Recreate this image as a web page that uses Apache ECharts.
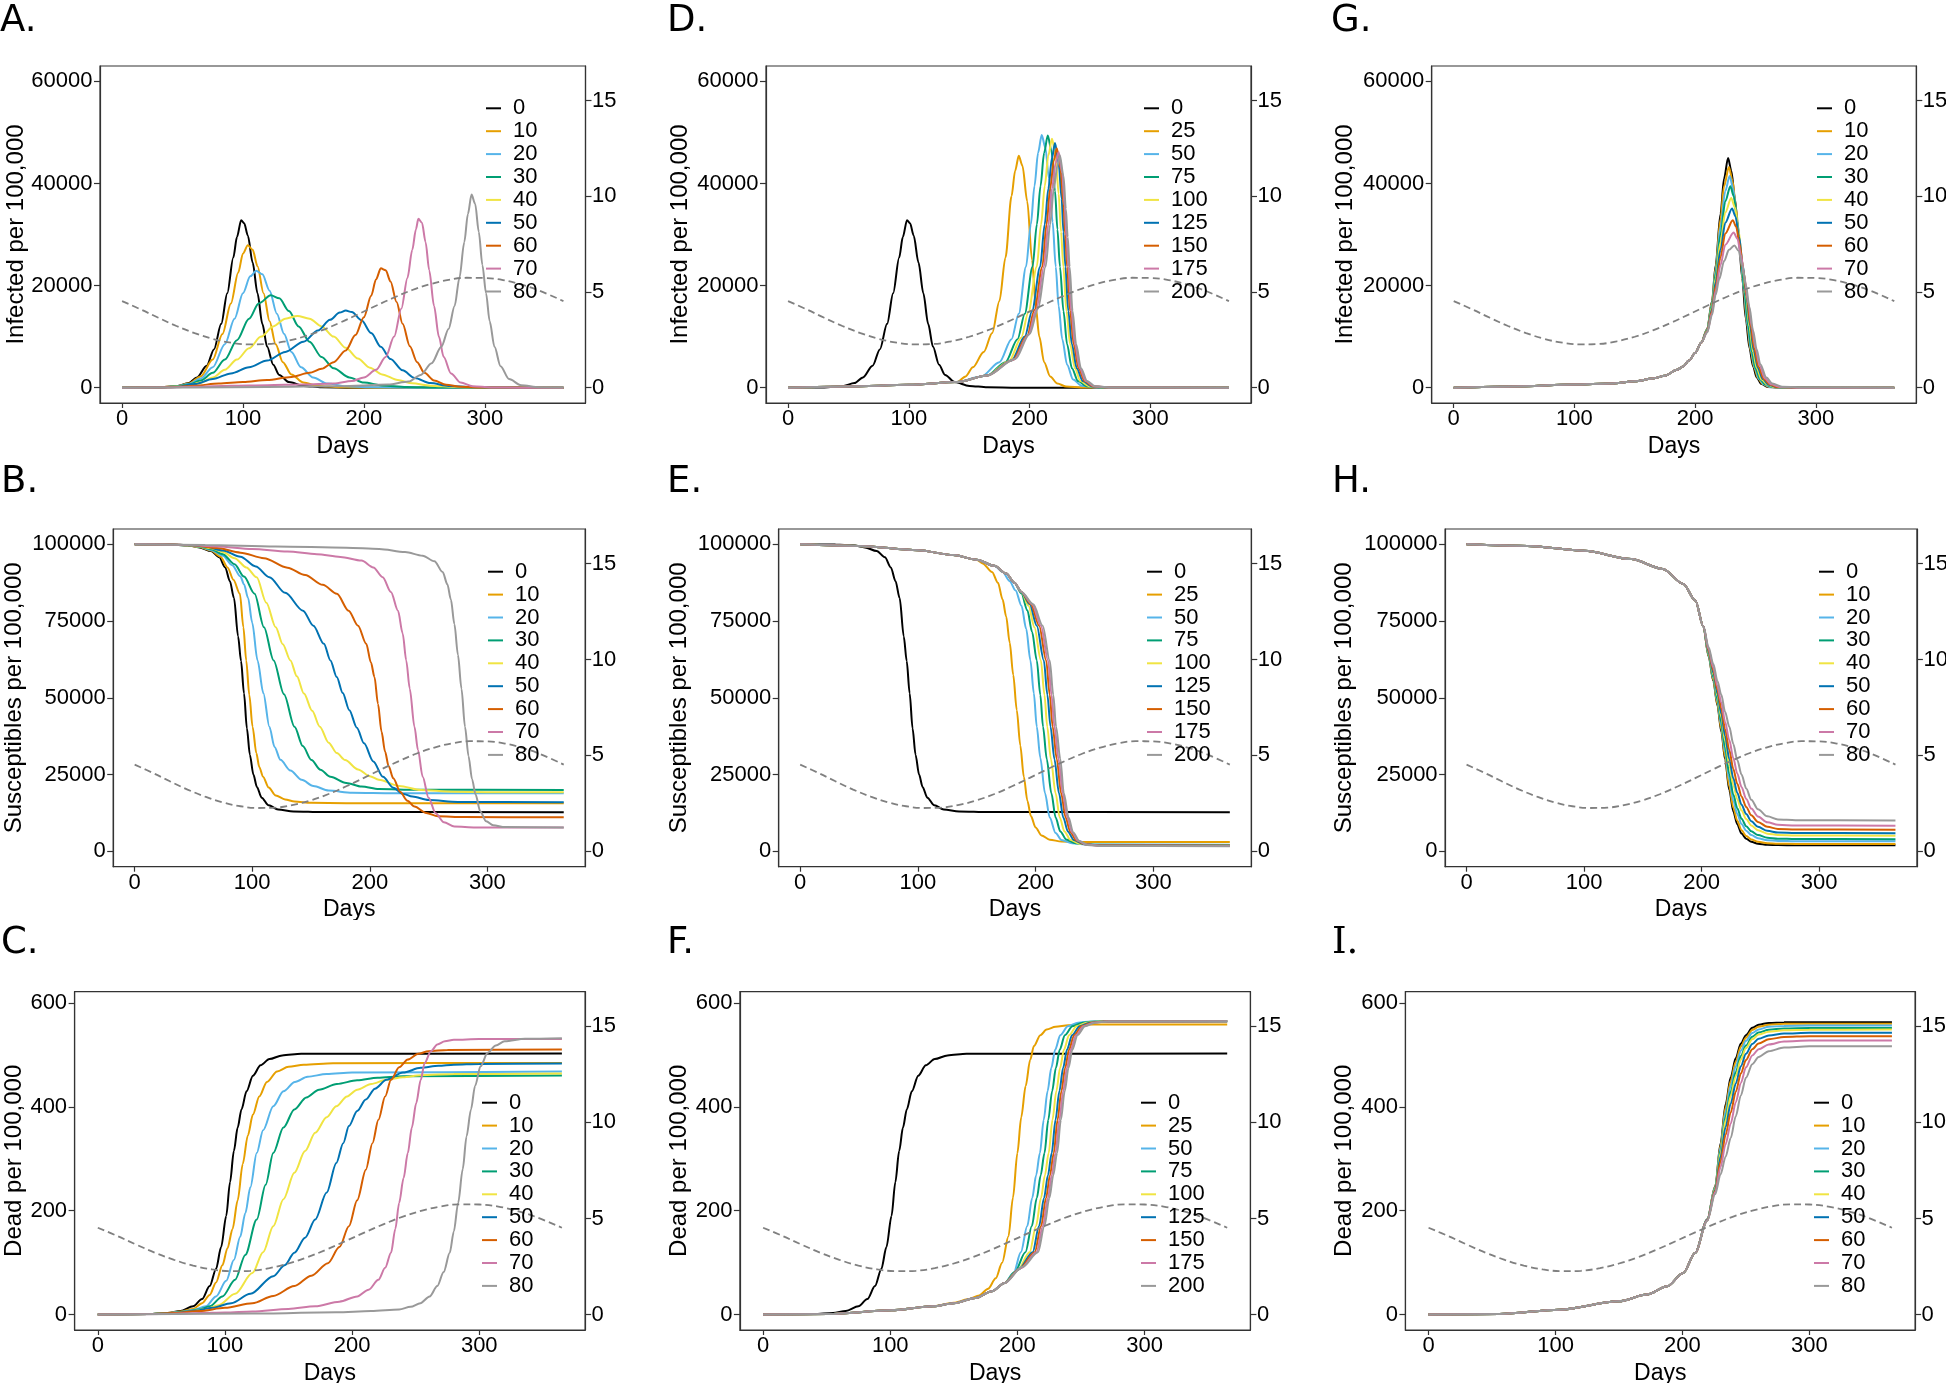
<!DOCTYPE html>
<html><head><meta charset="utf-8">
<script src="https://cdn.jsdelivr.net/npm/echarts@6/dist/echarts.min.js"></script>
<style>
html,body{margin:0;padding:0;background:#fff;}
body{position:relative;width:1946px;height:1383px;overflow:hidden;}
</style></head><body>
<script>
// ---------- shared data ----------
const seasonDays = [0,15,30,45,60,75,90,105,120,135,150,165,180,195,210,225,240,255,270,285,300,315,330,345,365];
const seasonR = [4.52,4.10,3.65,3.22,2.85,2.55,2.35,2.26,2.28,2.42,2.66,2.99,3.39,3.83,4.28,4.71,5.10,5.41,5.63,5.74,5.73,5.62,5.39,5.07,4.52];

const ageLabels = ['0','10','20','30','40','50','60','70','80'];
const delayLabels = ['0','25','50','75','100','125','150','175','200'];
const xTicks = [0,100,200,300];
const infTicks = [0,20000,40000,60000];
const susTicks = [0,25000,50000,75000,100000];
const deadTicks = [0,200,400,600];
const rTicks = [0,5,10,15];

// ---------- Infected: no intervention (black in A and D) ----------
const infNone = [[0,0],[30,60],[45,300],[55,900],[62,2000],[70,4300],[76,7500],[82,12500],[87,18500],[92,25500],[95,29500],[98.5,32800],[101,32200],[104,29800],[108,24500],[112,18500],[116,12500],[120,8000],[125,4500],[130,2500],[138,1100],[150,350],[165,80],[190,10],[365,0]];

// ---------- Panel A ----------
const infAge10 = [[0,0],[30,50],[45,280],[55,800],[65,2200],[75,5500],[83,10500],[90,16500],[96,22500],[100,26300],[104,27900],[108,27000],[112,23800],[117,18500],[122,13000],[127,8500],[133,5000],[140,2600],[150,1000],[162,350],[180,80],[210,10],[365,0]];
const infAge20 = [[0,0],[30,40],[45,250],[55,700],[65,1800],[75,4000],[85,8500],[93,13500],[100,18500],[106,21800],[111,22900],[116,22200],[122,19000],[128,14500],[134,10500],[140,7000],[148,4000],[158,2000],[170,800],[185,280],[205,70],[240,10],[365,0]];
const infAge30 = [[0,0],[30,40],[45,220],[55,600],[65,1400],[75,2900],[85,5500],[95,9300],[105,13500],[113,16500],[123,18100],[130,17500],[138,15000],[146,12000],[155,9000],[165,6000],[175,3800],[188,2000],[200,1000],[215,450],[235,150],[260,40],[300,5],[365,0]];
const infAge40 = [[0,0],[30,30],[45,180],[55,450],[65,1000],[75,2000],[85,3500],[95,5500],[105,7700],[115,10000],[125,12000],[135,13500],[145,14060],[155,13500],[165,12000],[175,10000],[185,7800],[195,5700],[205,3900],[215,2600],[228,1500],[240,850],[255,400],[275,130],[300,30],[365,0]];
const infAge50 = [[0,0],[30,30],[45,150],[60,700],[75,1700],[90,2800],[105,4000],[120,5300],[135,7000],[150,9000],[162,11200],[172,13300],[180,14700],[185,15100],[190,14800],[198,13200],[206,10700],[214,8000],[222,5600],[232,3400],[242,1900],[255,900],[270,350],[290,100],[320,15],[365,0]];
const infAge60 = [[0,0],[30,20],[45,120],[60,400],[80,800],[100,1100],[120,1500],[140,2100],[155,2900],[165,3700],[175,5000],[185,7300],[193,10300],[200,13800],[206,18000],[210,21200],[214,23370],[218,23000],[222,20800],[227,16800],[232,12500],[238,8100],[244,5000],[250,2900],[258,1400],[268,550],[280,180],[300,30],[365,0]];
const infAge70 = [[0,0],[40,50],[60,200],[90,400],[120,500],[150,600],[175,800],[190,1300],[200,2000],[210,3500],[218,6000],[225,10000],[231,15500],[236,21500],[240,27000],[243,31000],[245,33070],[248,32300],[251,28500],[254,23000],[258,16000],[262,10000],[266,6000],[272,2800],[280,1000],[290,300],[305,60],[330,5],[365,0]];
const infAge80 = [[0,0],[60,50],[120,150],[180,300],[220,600],[237,1200],[247,2500],[256,4800],[264,8000],[270,11500],[275,16000],[279,21500],[283,28500],[286,34000],[289,37820],[292,36000],[295,30500],[298,24000],[301,18500],[304,13000],[308,8000],[313,4200],[320,1700],[330,500],[345,100],[365,15]];

// ---------- Panel D ----------
const infDelayBase = [[0,0],[50,250],[100,550],[140,1100]];
const infDelay25 = [[147,2200],[153,4000],[162,7000],[169,10700],[175,17000],[180,25500],[185,37500],[188,42500],[191,45400],[194,43500],[198,36500],[202,25000],[205,16000],[208,10000],[212,5000],[217,2200],[223,800],[230,250],[245,40],[365,0]];
const infDelay50 = [[160,2200],[175,5000],[185,9500],[191,14500],[197,23700],[201,32000],[204,39500],[207,46000],[210,49500],[213,47000],[216,41000],[219,32500],[221.6,23700],[224,16000],[227,9500],[231,4500],[236,1600],[243,400],[255,50],[365,0]];
const infDelay75 = [[165,2400],[180,5000],[190,9500],[196,14500],[202.4,23700],[206,32000],[209,39500],[212,46000],[215,49400],[218,46500],[221,38500],[223,31000],[225.1,23700],[228,15000],[231,8500],[235,3800],[240,1300],[247,300],[260,30],[365,0]];
const infDelay100 = [[165,2400],[183,5200],[193,9800],[199,14800],[205.9,23700],[209.5,32000],[212.5,39500],[215.5,45500],[218.5,48760],[221.5,45500],[224,38000],[226,30500],[227.9,23700],[230.5,15000],[233.5,8500],[237.5,3800],[242,1300],[249,300],[262,30],[365,0]];
const infDelay125 = [[165,2400],[185,5300],[196,10000],[202,15000],[208.7,23700],[212.5,32000],[215.5,39000],[218.5,45000],[221,47900],[224,44000],[226.5,37000],[228,30500],[229.6,23700],[232,15000],[235,8500],[239,3800],[244,1300],[251,300],[263,30],[365,0]];
const infDelay150 = [[165,2400],[186,5400],[198,10200],[204,15200],[210.5,23700],[214,32000],[217,39000],[220,44500],[222.5,46900],[225.5,43000],[228,36000],[229.5,30000],[231,23700],[233.5,15000],[236.5,8500],[240.5,3800],[245.5,1300],[252,300],[264,30],[365,0]];
const infDelay175 = [[165,2400],[187,5500],[199,10300],[205.5,15300],[211.8,23700],[215.5,32000],[218.5,39000],[221.5,44000],[224,46150],[227,42000],[229,35500],[230.5,29500],[232,23700],[234.5,15000],[237.5,8500],[241.5,3800],[246.5,1300],[253,300],[265,30],[365,0]];
const infDelay200 = [[165,2400],[188,5600],[200,10500],[207,15500],[213.2,23700],[217,32000],[220,39000],[223,43500],[225,45500],[228,41500],[230,35000],[231.5,29500],[233.1,23700],[235.5,15000],[238.5,8500],[242.5,3800],[247.5,1300],[254,300],[266,30],[365,0]];

// ---------- Panel G ----------
const infLateBase = [[0,0],[50,250],[100,600],[130,800],[150,1240],[165,1800],[175,2340],[185,3500],[190,4170],[195,5300],[200,6770],[205,8800]];
const infLate0 = [[210,11500],[214,17000],[217,24000],[221,34000],[224,41000],[227.3,44980],[230,42500],[233,37000],[236,29500],[239,21500],[242,13500],[245,7800],[248,4200],[251,2000],[255,700],[260,150],[270,15],[365,0]];
const infLate10 = [[210,11400],[214,16800],[217,23500],[221,33000],[224,39500],[228,43230],[231,40500],[234,35000],[237,27500],[240,19800],[243,12500],[246,7200],[249,3900],[252,1900],[256,700],[261,160],[272,15],[365,0]];
const infLate20 = [[210,11300],[214,16500],[217,23000],[221,31500],[225,38500],[228.6,41470],[231.5,39000],[234.5,33500],[237.5,26500],[240.5,19000],[243.5,12000],[246.5,7000],[249.5,3800],[253,1700],[257,650],[262,150],[273,15],[365,0]];
const infLate30 = [[210,11300],[214,16200],[217,22300],[221,30000],[225,36500],[229.2,39450],[232,37500],[235,32500],[238,25800],[241,18800],[244,12000],[247,7000],[250,3800],[254,1600],[258,650],[264,130],[275,15],[365,0]];
const infLate40 = [[210,11200],[214,15800],[217,21500],[221,28500],[225,34300],[229.9,37170],[233,35300],[236,30800],[239,24800],[242,18300],[245,12000],[248,7000],[251,3900],[255,1600],[260,550],[266,120],[278,10],[365,0]];
const infLate50 = [[210,11100],[214,15400],[217,20700],[221,27000],[225,32300],[230.6,35090],[233.5,33500],[236.5,29500],[239.5,24000],[242.5,18000],[245.5,12200],[248.5,7400],[252,3900],[256,1700],[261,580],[267,140],[280,10],[365,0]];
const infLate60 = [[210,11000],[214,15000],[217,19800],[221,25500],[225,30200],[231.2,32810],[234,31500],[237,28000],[240,23000],[243,17500],[246,12200],[249,7700],[252.5,4100],[257,1700],[262,600],[268,150],[282,10],[365,0]];
const infLate70 = [[210,10900],[214,14600],[217,19000],[221,24000],[225,28000],[231.9,30400],[235,29200],[238,26000],[241,21500],[244,16600],[247,11900],[250,7800],[253.5,4300],[258,1800],[263,650],[270,150],[284,10],[365,0]];
const infLate80 = [[210,10800],[214,14200],[217,18200],[220,21300],[224,24800],[228,27000],[232.5,27860],[236,26800],[239,24000],[242,20200],[245,15800],[248,11200],[251,7500],[254,4600],[259,2000],[264,800],[272,200],[286,20],[365,0]];

// ---------- Susceptibles: no intervention (black in B and E) ----------
const susNone = [[0,100000],[30,99950],[45,99700],[55,99000],[65,97800],[72,95800],[77,92500],[81,88000],[84.5,82500],[88,70000],[90.5,62000],[93,51500],[95.5,40000],[98,31500],[101,25000],[104,21000],[108,17500],[114,15000],[122,13600],[135,13000],[160,12800],[365,12770]];

// ---------- Panel B ----------
const susAge10 = [[0,100000],[30,99950],[45,99700],[55,99100],[65,98000],[73,96000],[79,92500],[84,88500],[89.5,83900],[92.5,73000],[94.9,62200],[97.5,51000],[100.3,40600],[103.5,32000],[106,27500],[109.2,24300],[114,20800],[120,18200],[128,16900],[136,16200],[150,15800],[180,15700],[365,15690]];
const susAge20 = [[0,100000],[30,99950],[45,99700],[55,99200],[65,98200],[75,96300],[83,93200],[90,89500],[93,87000],[96.5,82500],[100,74500],[104.5,62200],[109.5,51500],[114.6,40600],[119,34000],[124,29800],[132.5,26300],[142,23300],[152,21300],[165,19800],[185,19100],[220,18950],[365,18900]];
const susAge30 = [[0,100000],[30,99950],[45,99700],[55,99300],[65,98400],[75,96800],[85,93500],[93,89500],[102,83900],[110,73000],[118.2,62200],[127,51200],[136,40600],[143,34300],[150.4,29750],[158,26600],[166.5,24300],[180,22300],[193,21100],[207.7,20300],[240,20050],[365,20000]];
const susAge40 = [[0,100000],[30,99950],[45,99750],[55,99400],[65,98700],[75,97500],[85,95500],[95,92500],[103.8,89300],[112,81000],[120,73000],[126,67500],[132.5,62200],[138,57000],[144,51400],[151,45800],[157.5,40600],[165,35400],[172,32000],[179,29750],[190,26700],[200,24500],[207.7,23300],[225,21300],[243.5,20000],[270,19400],[300,19280],[365,19260]];
const susAge50 = [[0,100000],[30,99950],[45,99800],[60,99300],[75,98000],[90,96000],[103,92800],[114.6,89300],[128,84200],[143.2,78400],[152,73500],[161,67600],[166.5,62200],[171.9,56800],[177,51600],[182.6,46000],[189,40300],[195.1,35200],[203,29300],[211.2,24300],[220,20700],[228,18800],[236.3,17850],[250,16700],[275,16100],[365,16000]];
const susAge60 = [[0,100000],[30,99950],[50,99700],[70,98800],[90,97300],[110,95500],[130,92400],[145,90000],[160,86800],[172,83900],[182,78400],[190,73500],[197,67600],[201,61500],[204,56800],[207,48000],[210,39000],[213,32500],[216,27800],[220,23800],[226,19300],[232,16500],[238,14600],[248,12500],[258,11400],[280,11150],[365,11140]];
const susAge70 = [[0,100000],[40,99900],[70,99300],[100,98500],[130,97700],[155,96800],[175,95900],[193,94700],[203,92500],[211,89300],[218,84500],[224,78400],[228,71000],[231,62200],[234,53000],[238,40600],[241,33000],[245,24300],[250,17500],[256,12440],[263,9500],[272,8100],[290,7800],[365,7790]];
const susAge80 = [[0,100000],[60,99800],[120,99300],[180,98900],[208,98500],[230,97500],[245,96300],[255,94500],[262,91000],[266,87000],[269,82000],[272,74000],[275,64000],[278,53000],[281,40600],[284,31000],[287,23500],[290,18500],[294,13000],[299,9800],[305,8500],[315,7900],[365,7790]];

// ---------- Panel E ----------
const susDelayBase = [[0,100000],[50,99500],[100,98100],[130,96500],[150,95000]];
const susDelay25 = [[155,93800],[163,91000],[168,87500],[172,82000],[175,76500],[178,68000],[181,57500],[184,46000],[187,34500],[190,24300],[193,16500],[196,11500],[200,7800],[205,5200],[212,3800],[222,3200],[240,3050],[365,3030]];
const susDelay50 = [[165,93000],[172,91000],[178,88000],[183,85000],[188,80000],[192,72500],[195.6,62200],[198.5,51500],[201,40600],[204,30500],[208,18900],[212,11000],[217,5950],[222,3700],[231,2600],[245,2250],[365,2150]];
const susDelay75 = [[165,93000],[175,90500],[182,87500],[188,84000],[193,78500],[197,71500],[201,62200],[204,51000],[206.3,40600],[209.5,30000],[213.4,18900],[217,11000],[221,6500],[226,3900],[234,2600],[248,2150],[365,2000]];
const susDelay100 = [[165,93000],[175,90500],[182,87500],[188,84500],[194,80000],[199,73000],[204.5,62200],[207.5,51000],[209.9,40600],[213,30000],[217,18900],[220.5,11000],[224.5,6500],[229.5,3800],[237,2500],[250,2050],[365,1950]];
const susDelay125 = [[165,93000],[175,90500],[182,87500],[188,84500],[195,80500],[201,73500],[207,62200],[210,51000],[212.7,40600],[216,30000],[219.9,18900],[223.5,11000],[227.5,6400],[232.5,3700],[240,2400],[253,2000],[365,1900]];
const susDelay150 = [[165,93000],[175,90500],[182,87500],[188,84500],[196,80500],[203,73500],[209,62200],[212,51000],[214.5,40600],[218,30000],[221.7,18900],[225.5,11000],[229.5,6300],[234.5,3600],[242,2300],[255,1900],[365,1850]];
const susDelay175 = [[165,93000],[175,90500],[182,87500],[188,84500],[197,80500],[204.5,73500],[210.6,62200],[213.5,51000],[216,40600],[219.5,30000],[223,18900],[227,11000],[231,6200],[236,3500],[243,2200],[256,1800],[365,1750]];
const susDelay200 = [[165,93000],[175,90500],[182,87500],[188,84500],[198,80500],[206,73500],[212,62200],[215,51000],[217.4,40600],[221,30000],[224,18900],[228,11000],[232,6100],[237,3400],[244,2100],[257,1750],[365,1700]];

// ---------- Panel H ----------
const susLateBase = [[0,100000],[52,99500],[100,97900],[140,95200],[167,92000],[184.5,87100],[194.7,81700],[201.5,73300]];
const susLateDays = [206,210,213.5,216.8,220,223.6,227,230.4,234,238,242.3,248,256,265,280,365];
const susLate0 = [63500,55500,47500,39000,30000,20000,13000,8800,5800,4100,3100,2500,2150,2050,1980,1950];
const susLate10 = [63670,55800,47940,39660,30850,21130,14210,9950,6860,5000,3850,3120,2660,2510,2430,2400];
const susLate20 = [63980,56380,48780,40920,32480,23300,16520,12150,8870,6720,5290,4290,3630,3390,3280,3250];
const susLate30 = [64250,56880,49500,42000,33880,25150,18500,14040,10600,8200,6525,5300,4460,4140,4015,3980];
const susLate40 = [64670,57650,50620,43680,36050,28030,21580,16970,13290,10500,8440,6870,5760,5310,5150,5110];
const susLate50 = [64970,58200,51420,44880,37600,30090,23780,19070,15210,12140,9810,7990,6680,6140,5970,5920];
const susLate60 = [65390,58970,52540,46560,39770,32980,26860,22000,17900,14430,11730,9560,7980,7310,7110,7060];
const susLate70 = [65870,59850,53820,48480,42250,36270,30380,25350,20970,17060,13920,11350,9460,8650,8410,8360];
const susLate80 = [66500,61000,55500,51000,45500,40600,35000,29750,25000,20500,16800,13700,11400,10400,10120,10060];

// ---------- Dead: no intervention (black in C and F) ----------
const deadNone = [[0,0],[40,1],[55,3],[65,7],[75,16],[82,30],[88,55],[93,88],[97,130],[101,190],[104,255],[107,315],[110,360],[113,395],[117,430],[122,460],[128,480],[135,492],[145,499],[160,502],[365,502.5]];

// ---------- Panel C ----------
const deadAge10 = [[0,0],[40,1],[55,3],[65,6],[75,11],[82,22],[88,38],[93,62],[98,95],[102,128],[106,165],[110,220],[114,290],[118,345],[122,385],[127,420],[133,448],[141,468],[150,477],[162,481],[185,484],[365,484.5]];
const deadAge20 = [[0,0],[40,1],[55,3],[65,5],[75,9],[85,16],[93,35],[101,65],[107,105],[112,150],[116,195],[120,245],[125,311],[130,355],[138,401],[146,430],[155,448],[165,458],[180,463],[200,466],[365,467.8]];
const deadAge30 = [[0,0],[40,1],[55,2],[70,6],[80,10],[88,16],[98,35],[108,67],[116,115],[125,183],[132,250],[138,311],[146,360],[154.6,395],[164,418],[174,433],[188,444],[204,451],[220,456],[240,459],[365,460.1]];
const deadAge40 = [[0,0],[40,1],[60,3],[75,7],[85,11],[95,18],[108,40],[121.6,80],[130,120],[138,170],[146,222],[154.6,273],[163,315],[171,350],[180,380],[187.6,401],[196,420],[204,433],[215,444],[227,452],[240,457],[254,461],[280,463],[365,464]];
const deadAge50 = [[0,0],[40,1],[60,3],[75,7],[90,13],[105,22],[120,40],[138,74],[147,95],[154.6,119],[163,148],[171,183],[180,235],[187.6,292],[193,330],[197.5,363],[204,392],[210.8,414],[218,435],[227,452],[240,466],[254,475],[268,479],[280,481],[300,482.5],[365,483.2]];
const deadAge60 = [[0,0],[40,1],[60,3],[80,7],[100,13],[121.6,22],[138,36],[154.6,55],[168,75],[181,99],[190,130],[197.5,170],[204,220],[210.8,279],[216,330],[220.7,375],[226,420],[230.6,452],[237,476],[243.8,491],[252,502],[260,507],[275,509.5],[365,510.2]];
const deadAge70 = [[0,0],[50,1],[80,3],[100,4],[121.6,6],[150,11],[171,16],[190,25],[204,35],[213,48],[220.7,67],[226,90],[230.6,119],[234,165],[237,215],[240.5,263],[243.8,311],[247,360],[250.4,407],[254,452],[257,484],[262,507],[267,520],[273,526],[280,529],[300,530.5],[365,530.7]];
const deadAge80 = [[0,0],[60,1],[120,2],[187.6,4.5],[215,7],[237,10],[246,15],[253.7,22],[261,35],[267,55],[272,82],[276.8,119],[280,160],[283.4,215],[287,280],[290,343],[293.5,395],[296.7,440],[301,478],[306.6,504],[313,518],[320,526],[336,531],[365,532]];

// ---------- Panel F ----------
const deadDelayBase = [[0,0],[51,1.3],[100.8,8.3],[133.8,16],[150,22],[167,32],[180,45],[190,61]];
const deadDelay25 = [[0,0],[51,1.3],[100.8,8.3],[133.8,16],[150,23],[162,30],[170,37],[177,50],[183,70],[188,100],[193,151],[196.5,225],[200,311],[203,380],[206.5,440],[210,490],[213,517],[218,538],[223,549],[230,554],[240,557],[260,558.3],[365,558.3]];
const deadDelay50 = [[197,80],[202.7,120],[207.7,170],[211.7,225],[214.7,268],[217.7,311],[220.7,375],[223.7,430],[226.7,475],[229.7,510],[233.7,538],[239.7,555],[247.7,562],[257.7,564.3],[365,564.7]];
const deadDelay75 = [[198,82],[206.3,120],[211.3,170],[215.3,225],[218.3,268],[221.3,311],[224.3,375],[227.3,430],[230.3,475],[233.3,510],[237.3,538],[243.3,555],[251.3,562],[261.3,564.3],[365,564.7]];
const deadDelay100 = [[200,85],[209.6,120],[214.6,170],[218.6,225],[221.6,268],[224.6,311],[227.6,375],[230.6,430],[233.6,475],[236.6,510],[240.6,538],[246.6,555],[254.6,562],[264.6,564.3],[365,564.7]];
const deadDelay125 = [[201,87],[212,120],[217,170],[221,225],[224,268],[227,311],[230,375],[233,430],[236,475],[239,510],[243,538],[249,555],[257,562],[267,564.3],[365,564.7]];
const deadDelay150 = [[202,89],[213.6,120],[218.6,170],[222.6,225],[225.6,268],[228.6,311],[231.6,375],[234.6,430],[237.6,475],[240.6,510],[244.6,538],[250.6,555],[258.6,562],[268.6,564.3],[365,564.7]];
const deadDelay175 = [[203,90],[215,120],[220,170],[224,225],[227,268],[230,311],[233,375],[236,430],[239,475],[242,510],[246,538],[252,555],[260,562],[270,564.3],[365,564.7]];
const deadDelay200 = [[204,92],[216.2,120],[221.2,170],[225.2,225],[228.2,268],[231.2,311],[234.2,375],[237.2,430],[240.2,475],[243.2,510],[247.2,538],[253.2,555],[261.2,562],[271.2,564.3],[365,564.7]];

// ---------- Panel I ----------
const deadLateBase = [[0,0],[56,1.3],[103,9.6],[150,25.7],[172,38.5],[188,54.5],[200.6,80],[210,119]];
const deadLateDays = [219.5,225.8,230,234,238,242,246,250,255,260,268,280,300,365];
const deadLate0 = [183,247,330,405,457,494,522,538,552,558,561.5,562.6,562.8,562.8];
const deadLate10 = [183,246,326,399,450,487,516,533,548,554,558.2,559.7,560,560];
const deadLate20 = [183,245,322,391,441,478,508,527,542,549,553.9,555.8,556.3,556.4];
const deadLate30 = [182,243,316,381,429,467,498,518,535,543,548.4,550.9,551.7,551.9];
const deadLate40 = [182,242,311,374,421,459,491,513,530,539,544.6,547.5,548.4,548.7];
const deadLate50 = [182,240,304,361,406,445,478,502,521,531,537.5,541.2,542.4,542.5];
const deadLate60 = [181,238,295,346,389,429,464,490,511,522,530,534.4,535.9,536];
const deadLate70 = [181,236,284,328,368,409,446,476,499,511,520,525.7,527.5,527.7];
const deadLate80 = [180,232,270,304,340,382,422,456,482,496,507,514,516.4,516.6];

// ---------- helpers ----------
function withBase(base, rest) { return base.concat(rest); }
function onDays(base, days, vals) { return base.concat(days.map((d, j) => [d, vals[j]])); }

const COLORS = ['#000000','#E69F00','#56B4E9','#009E73','#F0E442','#0072B2','#D55E00','#CC79A7','#999999'];
const FONT = '"Liberation Sans", Arial, Helvetica, sans-serif';

function build(cfg) {
  const div = document.createElement('div');
  div.style.cssText = 'position:absolute;left:' + cfg.x + 'px;top:' + cfg.y + 'px;width:' + cfg.w + 'px;height:' + cfg.h + 'px;';
  document.body.appendChild(div);
  const chart = echarts.init(div, null, {renderer: 'canvas', width: cfg.w, height: cfg.h});
  const series = cfg.curves.map((d, i) => ({
    name: cfg.labels[i], type: 'line', data: d, xAxisIndex: 0, yAxisIndex: 0,
    showSymbol: false, symbol: 'none', smooth: 0.3, smoothMonotone: 'x',
    lineStyle: {width: 2, color: COLORS[i]}, itemStyle: {color: COLORS[i]}
  }));
  series.push({
    name: 'season', type: 'line', xAxisIndex: 0, yAxisIndex: 1,
    data: seasonDays.map((d, i) => [d, seasonR[i]]),
    showSymbol: false, symbol: 'none', smooth: 0.4,
    lineStyle: {width: 1.8, color: '#808080', type: [7, 4]}, itemStyle: {color: '#808080'}
  });
  const tickStyle = {color: '#333', width: 1.2};
  const lbl = {fontFamily: FONT, fontSize: 22, color: '#000'};
  chart.setOption({
    animation: false,
    title: {text: cfg.letter, left: cfg.lx, top: cfg.ly, padding: 0,
      textStyle: {fontFamily: cfg.letterFont || '"DejaVu Sans"', fontSize: 37, fontWeight: 'normal', color: '#000'}},
    graphic: [{
      type: 'text', x: cfg.tx, y: cfg.gt + cfg.gh / 2, rotation: Math.PI / 2, silent: true,
      style: {text: cfg.yName, font: '24px ' + FONT, fill: '#000', align: 'center', verticalAlign: 'middle'}
    }],
    grid: {left: cfg.gl, top: cfg.gt, width: cfg.gw, height: cfg.gh, show: true,
      borderColor: '#333', borderWidth: 1.2, backgroundColor: 'transparent', containLabel: false, outerBoundsMode: 'none'},
    legend: {orient: 'vertical', left: cfg.legL, top: cfg.legT, padding: 0, itemWidth: 15, itemHeight: 2,
      itemGap: 0.9, icon: 'rect', selectedMode: false, data: cfg.labels,
      textStyle: Object.assign({lineHeight: 22, padding: [0, 0, 0, 7]}, lbl)},
    xAxis: {type: 'value', min: -18.25, max: 383.25, name: 'Days', nameLocation: 'middle', nameGap: 27,
      nameTextStyle: {fontFamily: FONT, fontSize: 23, color: '#000'},
      axisLine: {show: true, onZero: false, lineStyle: tickStyle},
      axisTick: {show: true, length: 5, lineStyle: tickStyle, customValues: xTicks},
      axisLabel: Object.assign({customValues: xTicks, margin: 5, formatter: v => String(v)}, lbl),
      splitLine: {show: false}},
    yAxis: [
      {type: 'value', min: cfg.yMin, max: cfg.yMax, position: 'left',
        axisLine: {show: true, onZero: false, lineStyle: tickStyle},
        axisTick: {show: true, length: 6, lineStyle: tickStyle, customValues: cfg.yTicks},
        axisLabel: Object.assign({customValues: cfg.yTicks, margin: 7.5, formatter: v => String(v)}, lbl),
        splitLine: {show: false}},
      {type: 'value', min: -0.8, max: 16.8, position: 'right',
        axisLine: {show: true, onZero: false, lineStyle: tickStyle},
        axisTick: {show: true, length: 6, lineStyle: tickStyle, customValues: rTicks},
        axisLabel: Object.assign({customValues: rTicks, margin: 6.5, formatter: v => String(v)}, lbl),
        splitLine: {show: false}}
    ],
    series: series
  });
}

const inf = {yMin: -3000, yMax: 63000, yTicks: infTicks, yName: 'Infected per 100,000'};
const sus = {yMin: -5000, yMax: 105000, yTicks: susTicks, yName: 'Susceptibles per 100,000'};
const dead = {yMin: -29.6, yMax: 621.6, yTicks: deadTicks, yName: 'Dead per 100,000'};

build(Object.assign({x: 0, y: 0, w: 660, h: 460, gl: 100, gt: 66, gw: 485.5, gh: 337, tx: 16,
  letter: 'A.', lx: 0, ly: 3, legL: 486, legT: 97.3, labels: ageLabels,
  curves: [infNone, infAge10, infAge20, infAge30, infAge40, infAge50, infAge60, infAge70, infAge80]}, inf));
build(Object.assign({x: 660, y: 0, w: 660, h: 460, gl: 106, gt: 66, gw: 485, gh: 337, tx: 20.4,
  letter: 'D.', lx: 7, ly: 3, legL: 484, legT: 97.3, labels: delayLabels,
  curves: [infNone, withBase(infDelayBase, infDelay25), withBase(infDelayBase, infDelay50), withBase(infDelayBase, infDelay75),
    withBase(infDelayBase, infDelay100), withBase(infDelayBase, infDelay125), withBase(infDelayBase, infDelay150),
    withBase(infDelayBase, infDelay175), withBase(infDelayBase, infDelay200)]}, inf));
build(Object.assign({x: 1320, y: 0, w: 626, h: 460, gl: 111.7, gt: 66, gw: 484.6, gh: 337, tx: 25.5,
  letter: 'G.', lx: 11, ly: 3, legL: 497, legT: 97.3, labels: ageLabels,
  curves: [infLate0, infLate10, infLate20, infLate30, infLate40, infLate50, infLate60, infLate70, infLate80].map(r => withBase(infLateBase, r))}, inf));

build(Object.assign({x: 0, y: 460, w: 660, h: 460, gl: 113.2, gt: 69, gw: 472, gh: 337.7, tx: 14.3,
  letter: 'B.', lx: 1, ly: 4, legL: 488, legT: 100.7, labels: ageLabels,
  curves: [susNone, susAge10, susAge20, susAge30, susAge40, susAge50, susAge60, susAge70, susAge80]}, sus));
build(Object.assign({x: 660, y: 460, w: 660, h: 460, gl: 118.7, gt: 69, gw: 472.6, gh: 337.7, tx: 19.4,
  letter: 'E.', lx: 7, ly: 4, legL: 487, legT: 100.7, labels: delayLabels,
  curves: [susNone].concat([susDelay25, susDelay50, susDelay75, susDelay100, susDelay125, susDelay150, susDelay175, susDelay200].map(r => withBase(susDelayBase, r)))}, sus));
build(Object.assign({x: 1320, y: 460, w: 626, h: 460, gl: 125.1, gt: 69, gw: 471.8, gh: 337.7, tx: 24.5,
  letter: 'H.', lx: 12, ly: 4, legL: 499, legT: 100.7, labels: ageLabels,
  curves: [susLate0, susLate10, susLate20, susLate30, susLate40, susLate50, susLate60, susLate70, susLate80].map(v => onDays(susLateBase, susLateDays, v))}, sus));

build(Object.assign({x: 0, y: 920, w: 660, h: 463, gl: 74.6, gt: 71.7, gw: 510.5, gh: 338.3, tx: 14.7,
  letter: 'C.', lx: 1, ly: 5, legL: 482, legT: 171.7, labels: ageLabels,
  curves: [deadNone, deadAge10, deadAge20, deadAge30, deadAge40, deadAge50, deadAge60, deadAge70, deadAge80]}, dead));
build(Object.assign({x: 660, y: 920, w: 660, h: 463, gl: 79.9, gt: 71.7, gw: 510.5, gh: 338.3, tx: 19.4,
  letter: 'F.', lx: 7, ly: 5, legL: 481, legT: 171.7, labels: delayLabels,
  curves: [deadNone, deadDelay25].concat([deadDelay50, deadDelay75, deadDelay100, deadDelay125, deadDelay150, deadDelay175, deadDelay200].map(r => withBase(deadDelayBase, r)))}, dead));
build(Object.assign({x: 1320, y: 920, w: 626, h: 463, gl: 85.4, gt: 71.7, gw: 509.7, gh: 338.3, tx: 24.5,
  letter: 'I.', letterFont: '"DejaVu Serif"', lx: 12, ly: 5, legL: 494, legT: 171.7, labels: ageLabels,
  curves: [deadLate0, deadLate10, deadLate20, deadLate30, deadLate40, deadLate50, deadLate60, deadLate70, deadLate80].map(v => onDays(deadLateBase, deadLateDays, v))}, dead));
</script>
</body></html>
